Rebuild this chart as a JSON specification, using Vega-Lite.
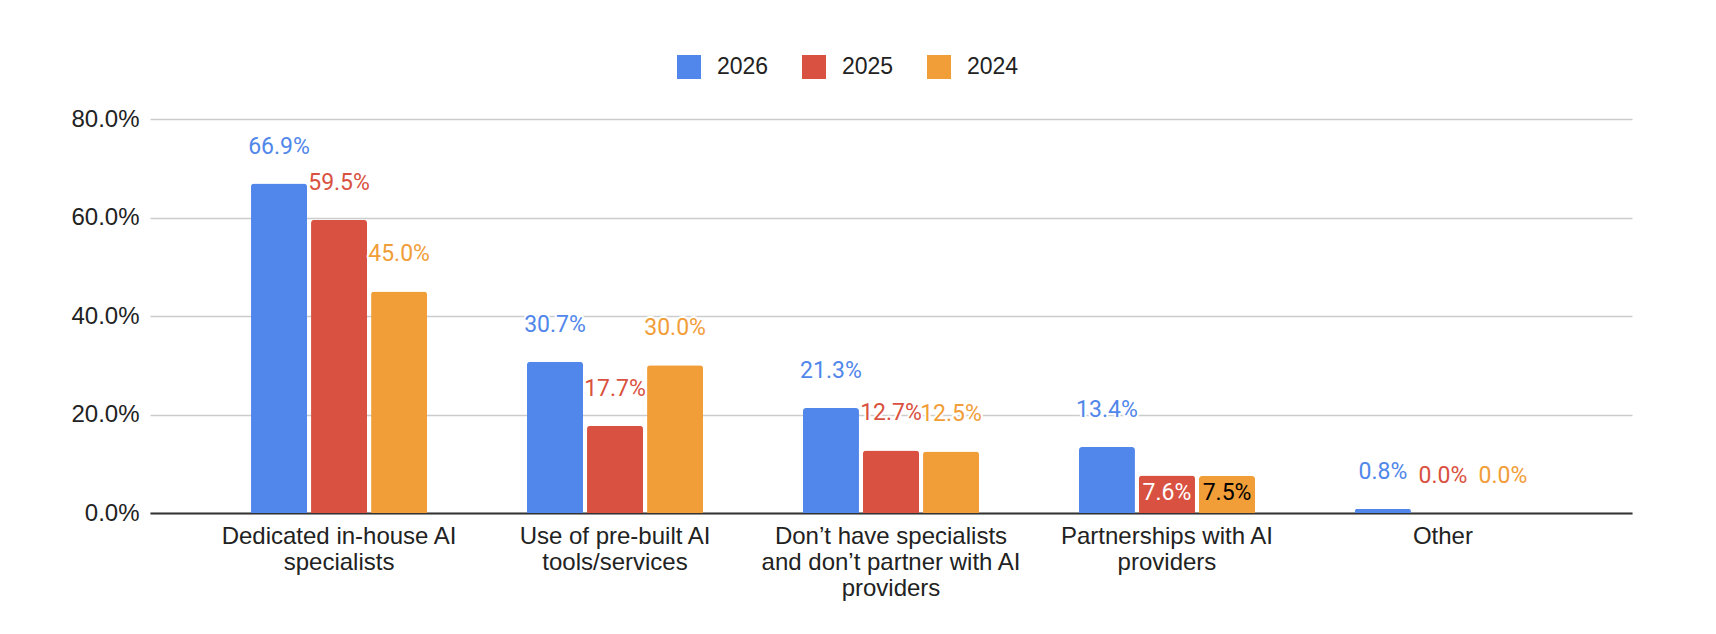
{
  "$schema": "https://vega.github.io/schema/vega-lite/v6.json",
  "width": 1482,
  "height": 394,
  "autosize": "none",
  "padding": {"left": 150, "top": 119, "right": 84, "bottom": 121},
  "background": "white",
  "config": {"view": {"stroke": null}, "font": "Liberation Sans"},
  "data": {
    "values": [
      {"category": "Dedicated in-house AI specialists", "year": "2026", "share": 0.669},
      {"category": "Dedicated in-house AI specialists", "year": "2025", "share": 0.595},
      {"category": "Dedicated in-house AI specialists", "year": "2024", "share": 0.45},
      {"category": "Use of pre-built AI tools/services", "year": "2026", "share": 0.307},
      {"category": "Use of pre-built AI tools/services", "year": "2025", "share": 0.177},
      {"category": "Use of pre-built AI tools/services", "year": "2024", "share": 0.3},
      {"category": "Don’t have specialists and don’t partner with AI providers", "year": "2026", "share": 0.213},
      {"category": "Don’t have specialists and don’t partner with AI providers", "year": "2025", "share": 0.127},
      {"category": "Don’t have specialists and don’t partner with AI providers", "year": "2024", "share": 0.125},
      {"category": "Partnerships with AI providers", "year": "2026", "share": 0.134},
      {"category": "Partnerships with AI providers", "year": "2025", "share": 0.076},
      {"category": "Partnerships with AI providers", "year": "2024", "share": 0.075},
      {"category": "Other", "year": "2026", "share": 0.008},
      {"category": "Other", "year": "2025", "share": 0.0},
      {"category": "Other", "year": "2024", "share": 0.0}
    ]
  },
  "encoding": {
    "x": {
      "field": "category",
      "type": "nominal",
      "sort": [
        "Dedicated in-house AI specialists",
        "Use of pre-built AI tools/services",
        "Don’t have specialists and don’t partner with AI providers",
        "Partnerships with AI providers",
        "Other"
      ],
      "scale": {"paddingInner": 0.362, "paddingOuter": 0.366},
      "axis": {
        "title": null,
        "labelAngle": 0,
        "ticks": false,
        "grid": false,
        "domain": true,
        "domainColor": "#333333",
        "domainWidth": 2,
        "labelFont": "Liberation Sans",
        "labelFontSize": 24,
        "labelColor": "#222222",
        "labelPadding": 11,
        "labelLineHeight": 26,
        "labelLimit": 0,
        "labelExpr": "datum.label == 'Dedicated in-house AI specialists' ? ['Dedicated in-house AI', 'specialists'] : datum.label == 'Use of pre-built AI tools/services' ? ['Use of pre-built AI', 'tools/services'] : datum.label == 'Don’t have specialists and don’t partner with AI providers' ? ['Don’t have specialists', 'and don’t partner with AI', 'providers'] : datum.label == 'Partnerships with AI providers' ? ['Partnerships with AI', 'providers'] : datum.label"
      }
    },
    "xOffset": {
      "field": "year",
      "type": "nominal",
      "sort": ["2026", "2025", "2024"],
      "scale": {"paddingInner": 0.067, "paddingOuter": 0}
    },
    "y": {
      "field": "share",
      "type": "quantitative",
      "scale": {"domain": [0, 0.8], "nice": false},
      "axis": {
        "title": null,
        "values": [0, 0.2, 0.4, 0.6, 0.8],
        "format": ".1%",
        "domain": false,
        "ticks": false,
        "grid": true,
        "gridColor": "#cccccc",
        "gridWidth": 1.5,
        "labelFont": "Liberation Sans",
        "labelFontSize": 24,
        "labelColor": "#222222",
        "labelPadding": 11
      }
    }
  },
  "layer": [
    {
      "mark": {"type": "bar", "cornerRadiusTopLeft": 3, "cornerRadiusTopRight": 3},
      "encoding": {
        "color": {
          "field": "year",
          "type": "nominal",
          "scale": {"domain": ["2026", "2025", "2024"], "range": ["#5187ea", "#d95140", "#f19e38"]},
          "legend": {
            "title": null,
            "orient": "none",
            "direction": "horizontal",
            "legendX": 527,
            "legendY": -64,
            "padding": 0,
            "symbolType": "square",
            "symbolSize": 576,
            "symbolStrokeWidth": 0,
            "symbolOpacity": 1,
            "labelFont": "Liberation Sans",
            "labelFontSize": 23,
            "labelColor": "#222222",
            "labelOffset": 16,
            "columnPadding": 33
          }
        }
      }
    },
    {
      "transform": [{"filter": "!(datum.category == 'Partnerships with AI providers' && datum.year != '2026')"}],
      "mark": {"type": "text", "font": "Roboto", "fontSize": 23, "baseline": "middle", "dy": -37, "fill": "white", "stroke": "white", "strokeWidth": 4, "strokeJoin": "round"},
      "encoding": {"text": {"field": "share", "type": "quantitative", "format": ".1%"}}
    },
    {
      "transform": [{"filter": "!(datum.category == 'Partnerships with AI providers' && datum.year != '2026')"}],
      "mark": {"type": "text", "font": "Roboto", "fontSize": 23, "baseline": "middle", "dy": -37},
      "encoding": {
        "text": {"field": "share", "type": "quantitative", "format": ".1%"},
        "color": {"field": "year", "type": "nominal", "legend": null}
      }
    },
    {
      "transform": [{"filter": "datum.category == 'Partnerships with AI providers' && datum.year != '2026'"}],
      "mark": {"type": "text", "font": "Roboto", "fontSize": 23, "baseline": "middle", "dy": 17},
      "encoding": {
        "text": {"field": "share", "type": "quantitative", "format": ".1%"},
        "color": {"condition": {"test": "datum.year == '2025'", "value": "white"}, "value": "black"}
      }
    }
  ]
}
